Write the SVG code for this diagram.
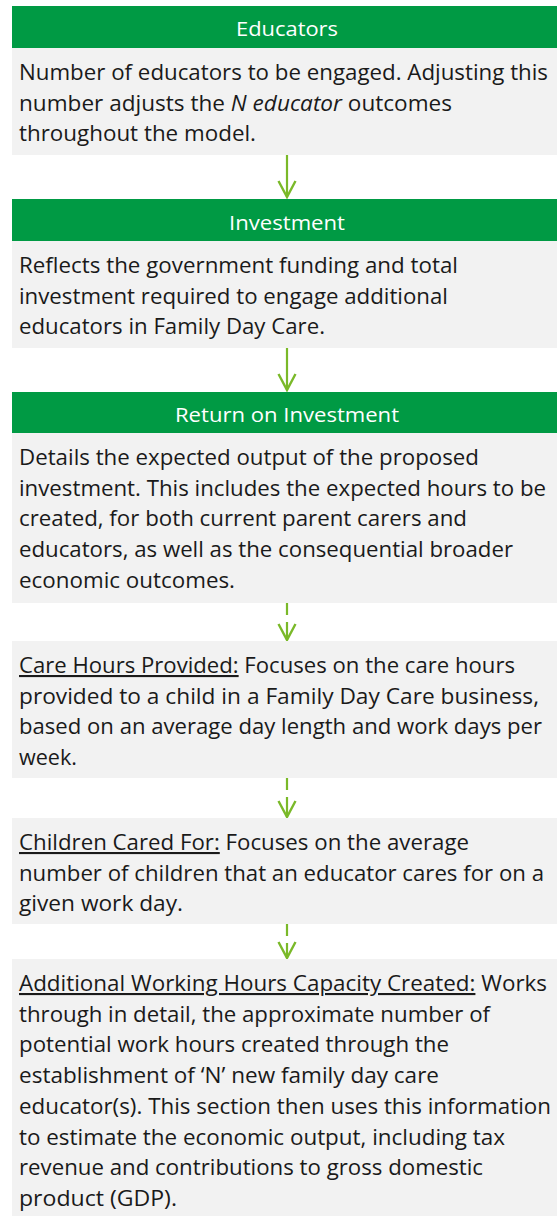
<svg xmlns="http://www.w3.org/2000/svg" width="557" height="1216" viewBox="0 0 557 1216">
<style>
.hdr{fill:#009a44}
.body{fill:#f2f2f2}
.ht{font-family:"Open Sans","Liberation Sans",sans-serif;font-size:20.5px;fill:#ffffff;text-anchor:middle}
.bt{font-family:"Open Sans","Liberation Sans",sans-serif;font-size:21px;fill:#1a1a1a}
.u{text-decoration:underline}
.i{font-style:italic}
.conn{stroke:#7ab929;stroke-width:2.2;fill:none}
.dash{stroke-dasharray:12 7 200 0}
</style>
<defs>
<marker id="chev" markerUnits="userSpaceOnUse" viewBox="-18 -10 20 20" refX="0" refY="0" markerWidth="20" markerHeight="20" orient="auto">
<path d="M-16,-8.5 L0,0 L-16,8.5" fill="none" stroke="#7ab929" stroke-width="2.4"/>
</marker>
</defs>
<rect width="557" height="1216" fill="#ffffff"/>

<g id="connectors">
<path class="conn" d="M287,155 V197" marker-end="url(#chev)"/>
<path class="conn" d="M287,348 V390" marker-end="url(#chev)"/>
<path class="conn dash" d="M287,603 V640" marker-end="url(#chev)"/>
<path class="conn dash" d="M287,778 V817" marker-end="url(#chev)"/>
<path class="conn dash" d="M287,924 V958" marker-end="url(#chev)"/>
</g>

<g id="educators">
<rect class="hdr" x="12" y="6" width="545" height="42"/>
<text class="ht" x="287" y="36" textLength="102" lengthAdjust="spacingAndGlyphs">Educators</text>
<rect class="body" x="12" y="48" width="545" height="107"/>
<text class="bt" x="19" y="80" textLength="529" lengthAdjust="spacingAndGlyphs">Number of educators to be engaged. Adjusting this</text>
<text class="bt" x="19" y="110.7" textLength="433" lengthAdjust="spacingAndGlyphs">number adjusts the <tspan class="i">N educator</tspan> outcomes</text>
<text class="bt" x="19" y="141.4" textLength="237" lengthAdjust="spacingAndGlyphs">throughout the model.</text>
</g>

<g id="investment">
<rect class="hdr" x="12" y="199" width="545" height="42"/>
<text class="ht" x="287" y="229.5" textLength="116" lengthAdjust="spacingAndGlyphs">Investment</text>
<rect class="body" x="12" y="241" width="545" height="107"/>
<text class="bt" x="19" y="273" textLength="439" lengthAdjust="spacingAndGlyphs">Reflects the government funding and total</text>
<text class="bt" x="19" y="303.7" textLength="429" lengthAdjust="spacingAndGlyphs">investment required to engage additional</text>
<text class="bt" x="19" y="334.4" textLength="306" lengthAdjust="spacingAndGlyphs">educators in Family Day Care.</text>
</g>

<g id="roi">
<rect class="hdr" x="12" y="392" width="545" height="41"/>
<text class="ht" x="287" y="422" textLength="224" lengthAdjust="spacingAndGlyphs">Return on Investment</text>
<rect class="body" x="12" y="433" width="545" height="170"/>
<text class="bt" x="19" y="465" textLength="460" lengthAdjust="spacingAndGlyphs">Details the expected output of the proposed</text>
<text class="bt" x="19" y="495.7" textLength="527" lengthAdjust="spacingAndGlyphs">investment. This includes the expected hours to be</text>
<text class="bt" x="19" y="526.4" textLength="448" lengthAdjust="spacingAndGlyphs">created, for both current parent carers and</text>
<text class="bt" x="19" y="557.1" textLength="494" lengthAdjust="spacingAndGlyphs">educators, as well as the consequential broader</text>
<text class="bt" x="19" y="587.8" textLength="216" lengthAdjust="spacingAndGlyphs">economic outcomes.</text>
</g>

<g id="care-hours">
<rect class="body" x="12" y="641" width="545" height="137"/>
<text class="bt" x="19" y="673" textLength="496" lengthAdjust="spacingAndGlyphs"><tspan class="u">Care Hours Provided:</tspan> Focuses on the care hours</text>
<text class="bt" x="19" y="703.7" textLength="520" lengthAdjust="spacingAndGlyphs">provided to a child in a Family Day Care business,</text>
<text class="bt" x="19" y="734.4" textLength="523" lengthAdjust="spacingAndGlyphs">based on an average day length and work days per</text>
<text class="bt" x="19" y="765.1" textLength="58" lengthAdjust="spacingAndGlyphs">week.</text>
</g>

<g id="children">
<rect class="body" x="12" y="818" width="545" height="106"/>
<text class="bt" x="19" y="850" textLength="450" lengthAdjust="spacingAndGlyphs"><tspan class="u">Children Cared For:</tspan> Focuses on the average</text>
<text class="bt" x="19" y="880.7" textLength="525" lengthAdjust="spacingAndGlyphs">number of children that an educator cares for on a</text>
<text class="bt" x="19" y="911.4" textLength="164" lengthAdjust="spacingAndGlyphs">given work day.</text>
</g>

<g id="capacity">
<rect class="body" x="12" y="959" width="545" height="257"/>
<text class="bt" x="19" y="991" textLength="528" lengthAdjust="spacingAndGlyphs"><tspan class="u">Additional Working Hours Capacity Created:</tspan> Works</text>
<text class="bt" x="19" y="1021.7" textLength="471" lengthAdjust="spacingAndGlyphs">through in detail, the approximate number of</text>
<text class="bt" x="19" y="1052.4" textLength="430" lengthAdjust="spacingAndGlyphs">potential work hours created through the</text>
<text class="bt" x="19" y="1083.1" textLength="420" lengthAdjust="spacingAndGlyphs">establishment of ‘N’ new family day care</text>
<text class="bt" x="19" y="1113.8" textLength="532" lengthAdjust="spacingAndGlyphs">educator(s). This section then uses this information</text>
<text class="bt" x="19" y="1144.5" textLength="486" lengthAdjust="spacingAndGlyphs">to estimate the economic output, including tax</text>
<text class="bt" x="19" y="1175.2" textLength="464" lengthAdjust="spacingAndGlyphs">revenue and contributions to gross domestic</text>
<text class="bt" x="19" y="1205.9" textLength="158" lengthAdjust="spacingAndGlyphs">product (GDP).</text>
</g>
</svg>
